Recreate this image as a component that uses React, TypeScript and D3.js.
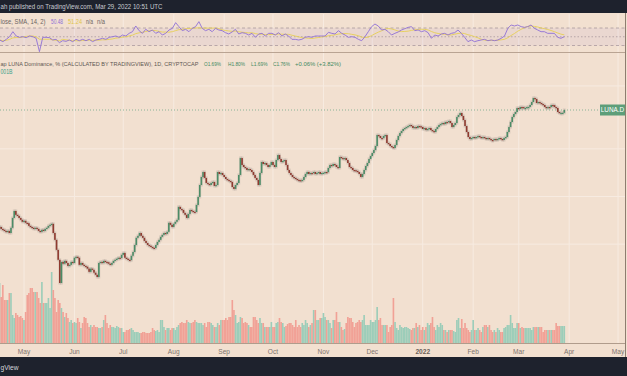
import React from "react";
import * as d3 from "d3";

// ---- data ----
const START = new Date(2021, 3, 16); // first visible daily candle

// daily close, LUNA dominance in %
const closes = [
  0.321, 0.312, 0.308, 0.303, 0.299, 0.303, 0.294, 0.317, 0.366, 0.405,
  0.383, 0.377, 0.366, 0.356, 0.346, 0.351, 0.341, 0.339, 0.326, 0.321,
  0.317, 0.312, 0.317, 0.312, 0.303, 0.299, 0.308, 0.303, 0.312, 0.317,
  0.326, 0.331, 0.336, 0.294, 0.266, 0.230, 0.199, 0.142, 0.193, 0.188,
  0.196, 0.190, 0.182, 0.185, 0.193, 0.190, 0.205, 0.208, 0.205, 0.185,
  0.190, 0.185, 0.182, 0.180, 0.175, 0.167, 0.175, 0.172, 0.165, 0.160,
  0.155, 0.190, 0.193, 0.190, 0.196, 0.193, 0.192, 0.188, 0.185, 0.190,
  0.196, 0.199, 0.202, 0.205, 0.204, 0.214, 0.220, 0.205, 0.202, 0.199,
  0.198, 0.211, 0.223, 0.247, 0.274, 0.282, 0.294, 0.282, 0.274, 0.262,
  0.254, 0.247, 0.244, 0.240, 0.237, 0.236, 0.247, 0.258, 0.266, 0.278,
  0.286, 0.294, 0.290, 0.299, 0.341, 0.331, 0.321, 0.336, 0.346, 0.356,
  0.430, 0.417, 0.411, 0.394, 0.383, 0.366, 0.388, 0.411, 0.405, 0.400,
  0.399, 0.442, 0.497, 0.591, 0.664, 0.714, 0.655, 0.609, 0.600, 0.591,
  0.609, 0.618, 0.583, 0.591, 0.714, 0.694, 0.704, 0.684, 0.664, 0.645,
  0.636, 0.627, 0.618, 0.574, 0.558, 0.591, 0.609, 0.684, 0.875, 0.791,
  0.768, 0.757, 0.735, 0.746, 0.735, 0.714, 0.684, 0.655, 0.636, 0.591,
  0.704, 0.826, 0.802, 0.814, 0.791, 0.768, 0.791, 0.826, 0.791, 0.768,
  0.850, 0.914, 0.863, 0.826, 0.838, 0.850, 0.791, 0.735, 0.704, 0.684,
  0.664, 0.655, 0.645, 0.636, 0.634, 0.627, 0.636, 0.664, 0.694, 0.714,
  0.694, 0.704, 0.702, 0.714, 0.694, 0.704, 0.714, 0.694, 0.704, 0.706,
  0.714, 0.712, 0.757, 0.791, 0.779, 0.802, 0.791, 0.768, 0.757, 0.888,
  0.875, 0.863, 0.875, 0.850, 0.814, 0.768, 0.757, 0.735, 0.733, 0.725,
  0.714, 0.694, 0.664, 0.694, 0.735, 0.779, 0.814, 0.863, 0.901, 0.941,
  0.983, 1.042, 1.223, 1.206, 1.171, 1.168, 1.206, 1.223, 1.089, 1.073,
  1.042, 1.027, 1.012, 1.058, 1.137, 1.206, 1.259, 1.296, 1.335, 1.354,
  1.374, 1.394, 1.415, 1.394, 1.354, 1.374, 1.354, 1.394, 1.390, 1.374,
  1.335, 1.354, 1.315, 1.335, 1.354, 1.315, 1.296, 1.278, 1.335, 1.374,
  1.415, 1.435, 1.456, 1.435, 1.478, 1.475, 1.499, 1.456, 1.374, 1.415,
  1.456, 1.589, 1.636, 1.685, 1.613, 1.521, 1.394, 1.278, 1.188, 1.154,
  1.171, 1.188, 1.171, 1.188, 1.206, 1.188, 1.171, 1.188, 1.171, 1.154,
  1.171, 1.154, 1.137, 1.135, 1.154, 1.137, 1.154, 1.171, 1.154, 1.137,
  1.171, 1.188, 1.278, 1.374, 1.478, 1.589, 1.660, 1.710, 1.812, 1.786,
  1.838, 1.835, 1.812, 1.815, 1.838, 1.840, 1.893, 1.977, 2.096, 2.065,
  1.949, 1.977, 1.949, 1.920, 1.893, 1.838, 1.812, 1.838, 1.836, 1.893,
  1.890, 1.838, 1.812, 1.710, 1.685, 1.688, 1.690, 1.760,
];

// daily volume (relative units)
const volumes = [
  60, 46, 58, 43, 43, 43, 50, 50, 28, 25,
  30, 28, 26, 27, 25, 23, 31, 48, 50, 55,
  55, 51, 51, 51, 45, 40, 61, 40, 40, 40,
  45, 35, 71, 53, 45, 31, 43, 40, 35, 31,
  26, 30, 25, 21, 23, 20, 21, 20, 25, 21,
  15, 20, 26, 25, 20, 16, 18, 16, 18, 16,
  16, 15, 15, 16, 23, 28, 20, 15, 18, 16,
  16, 15, 17, 16, 15, 15, 11, 11, 13, 13,
  14, 15, 13, 11, 11, 11, 10, 10, 11, 11,
  10, 10, 10, 11, 15, 13, 12, 13, 11, 23,
  23, 16, 13, 15, 15, 13, 15, 15, 13, 16,
  18, 20, 21, 20, 20, 23, 21, 20, 20, 21,
  23, 21, 20, 20, 20, 18, 20, 16, 21, 21,
  20, 18, 16, 16, 20, 18, 23, 23, 23, 25,
  23, 26, 26, 43, 33, 28, 20, 21, 26, 25,
  20, 21, 20, 18, 16, 16, 26, 26, 23, 20,
  25, 20, 20, 16, 16, 16, 16, 21, 16, 16,
  20, 21, 25, 21, 20, 16, 17, 19, 20, 20,
  18, 16, 23, 16,
  18, 16, 20, 18, 23, 20, 16, 18, 20, 33,
  33, 23, 23, 25, 25, 30, 26, 23, 23, 20,
  15, 23, 23, 31, 21, 21, 16, 13, 14, 20, 26,
  25, 25, 21, 16, 20, 21, 23, 21, 23, 28,
  18, 18, 18, 23, 21, 21, 23, 36, 23, 25,
  18, 18, 18, 18, 11, 16, 18, 45, 21, 15,
  13, 18, 16, 15, 16, 16, 15, 14, 13, 15, 15,
  20, 16, 18, 13, 16, 13, 16, 20, 18, 20,
  26, 16, 13, 18, 16, 20, 18, 13, 13, 11,
  13, 13, 13, 12, 11, 23, 25, 15, 24, 15, 20,
  15, 13, 11, 13, 23, 13, 13, 15, 13, 11,
  16, 18, 18, 16, 18, 13, 11, 13, 11, 15,
  13, 11, 11, 15, 16, 18, 18, 28, 20, 15,
  15, 20, 20, 15, 16, 15, 15, 15, 15, 15, 13,
  16, 16, 16, 16, 16, 16, 11, 13, 13, 13,
  13, 13, 13, 13, 20, 17, 17, 17, 17, 17,
];

// RSI(14) readings, evenly spaced over the same period
const rsiValues = [
  42.6, 38.8, 44.1, 50.2, 61.6, 51.7, 48.7, 50.2, 47.9, 51.7,
  50.2, 46.4, 15.9, 48.7, 48.7, 47.9, 42.6, 44.1, 36.5, 41.0,
  39.5, 42.6, 38.8, 44.1, 41.0, 44.1, 41.0, 44.1, 38.8, 42.6,
  44.1, 46.4, 44.1, 48.7, 50.2, 51.7, 48.7, 54.0, 51.7, 57.8,
  61.6, 74.6, 63.9, 57.8, 67.0, 61.6, 65.4, 57.8, 61.6, 54.0,
  57.8, 65.4, 69.2, 82.2, 73.1, 63.9, 67.0, 61.6, 69.2, 73.1,
  84.5, 69.2, 63.9, 67.0, 61.6, 69.2, 65.4, 63.9, 59.3, 56.3,
  60.9, 67.0, 56.3, 59.3, 57.8, 54.0, 57.8, 48.7, 56.3, 57.8,
  51.7, 57.8, 57.8, 54.0, 59.3, 51.7, 56.3, 51.7, 44.1, 44.1,
  42.6, 44.1, 48.7, 50.2, 48.7, 51.7, 51.7, 51.7, 51.7, 60.1,
  57.8, 56.3, 63.9, 57.8, 54.0, 48.7, 50.2, 48.7, 44.1, 41.0,
  50.2, 61.6, 73.1, 79.1, 74.6, 65.4, 67.0, 61.6, 54.0, 57.8,
  60.9, 65.4, 68.5, 71.5, 73.1, 63.9, 65.4, 61.6, 63.9, 59.3,
  46.4, 54.0, 51.7, 56.3, 57.8, 54.0, 57.8, 59.3, 65.4, 57.8,
  48.7, 38.8, 42.6, 38.8, 41.0, 42.6, 44.1, 41.0, 42.6, 41.0,
  42.6, 46.4, 51.7, 69.2, 76.9, 74.6, 76.9, 73.1, 71.5, 73.1,
  76.9, 69.2, 65.4, 61.6, 61.6, 57.8, 57.8, 57.8, 48.7, 46.4,
  50.2,
];

const monthLabels = ["May", "Jun", "Jul", "Aug", "Sep", "Oct", "Nov", "Dec", "2022", "Feb", "Mar", "Apr", "May"];
const priceGrid = [0.25, 0.5, 1, 2.5];
const rsiLevels = [70, 50, 30];
const lastPrice = 1.76;
const ohlcLegend = ["O1.69%", "H1.80%", "L1.69%", "C1.76%", "+0.06% (+3.82%)"];
const rsiLegend = ["50.48", "51.24", "n/a", "n/a"];

const FONT = "'Liberation Sans', 'DejaVu Sans', sans-serif";

export default function App() {
  const W = 627;
  const H = 376;
  const green = "#4b8c66";
  const red = "#8f3a2f";

  const dates = closes.map((_, i) => d3.timeDay.offset(START, i));
  const x = d3.scaleTime().domain([new Date(2021, 4, 1), new Date(2022, 4, 1)]).range([24, 618]);
  const y = d3.scaleLog().domain([0.142, 2.096]).range([283, 98]);
  const vy = d3.scaleLinear().domain([0, 100]).range([343, 243]);
  const ry = d3.scaleLinear().domain([30, 70]).range([45.5, 28]);

  const candles = closes.map((c, i) => ({
    d: dates[i],
    o: i > 0 ? closes[i - 1] : c,
    c,
    v: volumes[i] ?? 0,
  }));

  const t0 = dates[0].getTime();
  const t1 = dates[dates.length - 1].getTime();
  const rsiPts = rsiValues.map((v, k) => ({ t: new Date(t0 + (k * (t1 - t0)) / (rsiValues.length - 1)), v }));
  const smaPts = rsiPts.map((p, k) => ({
    t: p.t,
    v: d3.mean(rsiValues.slice(Math.max(0, k - 6), k + 1)) as number,
  }));
  const rline = d3
    .line<{ t: Date; v: number }>()
    .x((p) => x(p.t))
    .y((p) => ry(p.v))
    .curve(d3.curveLinear);

  const monthDates = d3.timeMonth.range(new Date(2021, 4, 1), new Date(2022, 4, 2));
  const barW = (x(new Date(2021, 5, 1)) - x(new Date(2021, 4, 1))) / 31;

  const legendFs = 6.8;
  const ohlcPos = [
    [204, 17],
    [228, 17],
    [251, 16.5],
    [273, 17],
    [295, 46],
  ];
  const rsiPos = [
    [51, 12],
    [68, 14],
    [86, 7],
    [97, 8],
  ];

  return (
    <svg
      width={W}
      height={H}
      style={{ position: "absolute", left: 0, top: 0, display: "block" }}
      fontFamily={FONT}
    >
      <defs>
        <clipPath id="mainClip">
          <rect x={0} y={53} width={625} height={290} />
        </clipPath>
        <clipPath id="rsiClip">
          <rect x={0} y={14} width={625} height={38} />
        </clipPath>
      </defs>
      <rect x={0} y={0} width={W} height={H} fill="#f2e0d0" />

      {/* vertical month grid */}
      {monthDates.map((d, i) => (
        <g key={"vg" + i}>
          <line x1={x(d)} x2={x(d)} y1={14} y2={52} stroke="#f7ebe1" strokeWidth={1} />
          <line x1={x(d)} x2={x(d)} y1={53} y2={343} stroke="#f7ebe1" strokeWidth={1} />
        </g>
      ))}
      {/* horizontal price grid */}
      {priceGrid.map((p, i) => (
        <line key={"hg" + i} x1={0} x2={625} y1={y(p)} y2={y(p)} stroke="#f7ebe1" strokeWidth={1} />
      ))}

      {/* RSI panel */}
      <rect x={0} y={ry(70)} width={625} height={ry(30) - ry(70)} fill="#b39ad6" opacity={0.12} />
      {rsiLevels.map((lv, i) => (
        <line
          key={"rl" + i}
          x1={0}
          x2={625}
          y1={ry(lv)}
          y2={ry(lv)}
          stroke="#9b8a93"
          strokeWidth={0.8}
          strokeDasharray={lv === 50 ? "1.5,2" : "3,2.5"}
          opacity={0.8}
        />
      ))}
      <g clipPath="url(#rsiClip)">
        <path d={rline(smaPts) || ""} fill="none" stroke="#e6cf55" strokeWidth={0.9} />
        <path d={rline(rsiPts) || ""} fill="none" stroke="#8f6fd6" strokeWidth={0.9} />
      </g>
      <text x={0.5} y={23.5} fontSize={legendFs} fill="#6b6460" textLength={45} lengthAdjust="spacingAndGlyphs">
        lose, SMA, 14, 2)
      </text>
      {rsiLegend.map((t, i) => (
        <text
          key={"rsl" + i}
          x={rsiPos[i][0]}
          y={23.5}
          fontSize={legendFs}
          fill={i === 0 ? "#8f6fd6" : i === 1 ? "#e0c64a" : "#6b6460"}
          textLength={rsiPos[i][1]}
          lengthAdjust="spacingAndGlyphs"
        >
          {t}
        </text>
      ))}

      {/* panel separators */}
      <line x1={0} x2={625} y1={52.5} y2={52.5} stroke="#b9a493" strokeWidth={1} />
      <line x1={0} x2={625} y1={343.5} y2={343.5} stroke="#b09c8c" strokeWidth={1} />

      {/* volume */}
      <g clipPath="url(#mainClip)">
        {candles.map((k, i) => (
          <rect
            key={"v" + i}
            x={x(k.d) - barW / 2}
            y={vy(k.v)}
            width={barW}
            height={vy(0) - vy(k.v)}
            fill={k.c >= k.o ? "#9ccdb9" : "#f1a196"}
          />
        ))}
      </g>

      {/* last price line */}
      <line x1={0} x2={600} y1={y(lastPrice)} y2={y(lastPrice)} stroke="#6fa888" strokeWidth={0.8} strokeDasharray="1,2" />

      {/* candles */}
      <g clipPath="url(#mainClip)">
        {candles.map((k, i) => {
          const top = Math.min(y(k.o), y(k.c));
          const h = Math.max(1, Math.abs(y(k.o) - y(k.c)));
          return (
            <rect key={"s" + i} x={x(k.d) - 1.4} y={top - 1.5} width={2.8} height={h + 3} fill="#9d918b" opacity={0.3} />
          );
        })}
        {candles.map((k, i) => {
          const top = Math.min(y(k.o), y(k.c));
          const h = Math.max(1.2, Math.abs(y(k.o) - y(k.c)));
          return (
            <rect
              key={"c" + i}
              x={x(k.d) - 0.8}
              y={top}
              width={1.6}
              height={h}
              fill={k.c >= k.o ? green : red}
            />
          );
        })}
      </g>

      {/* main legend */}
      <text x={0.5} y={65.8} fontSize={5.6} fill="#5e5752" textLength={198} lengthAdjust="spacingAndGlyphs">
        ap LUNA Dominance, % (CALCULATED BY TRADINGVIEW), 1D, CRYPTOCAP
      </text>
      {ohlcLegend.map((t, i) => (
        <text
          key={"ol" + i}
          x={ohlcPos[i][0]}
          y={65.8}
          fontSize={6.0}
          fill="#3f8a5f"
          textLength={ohlcPos[i][1]}
          lengthAdjust="spacingAndGlyphs"
        >
          {t}
        </text>
      ))}
      <text x={0.5} y={73.8} fontSize={legendFs} fill="#3aa08a" textLength={12} lengthAdjust="spacingAndGlyphs">
        001B
      </text>

      {/* LUNA.D price label */}
      <rect x={600} y={y(lastPrice) - 5.5} width={25} height={11} fill="#5d9e79" />
      <text x={612.5} y={y(lastPrice) + 2.3} fontSize={6.4} fill="#ffffff" textAnchor="middle">
        LUNA.D
      </text>

      {/* x axis labels */}
      {monthDates.map((d, i) => (
        <text
          key={"xl" + i}
          x={x(d)}
          y={353.5}
          fontSize={6.6}
          fill={monthLabels[i] === "2022" ? "#6a615a" : "#7d746e"}
          fontWeight={monthLabels[i] === "2022" ? "bold" : "normal"}
          textAnchor="middle"
        >
          {monthLabels[i]}
        </text>
      ))}

      {/* right border */}
      <line x1={625.5} x2={625.5} y1={13} y2={357} stroke="#8e7d70" strokeWidth={1} />

      {/* header & footer bars */}
      <rect x={0} y={0} width={W} height={13} fill="#1e222d" />
      <text x={0.5} y={9} fontSize={6.8} fill="#c8cad0" textLength={162} lengthAdjust="spacingAndGlyphs">
        ah published on TradingView.com, Mar 29, 2022 10:51 UTC
      </text>
      <rect x={0} y={357} width={W} height={H - 357} fill="#1e222d" />
      <text x={0.5} y={370} fontSize={7.5} fill="#d6d8dd" textLength={18} lengthAdjust="spacingAndGlyphs">
        gView
      </text>
    </svg>
  );
}
